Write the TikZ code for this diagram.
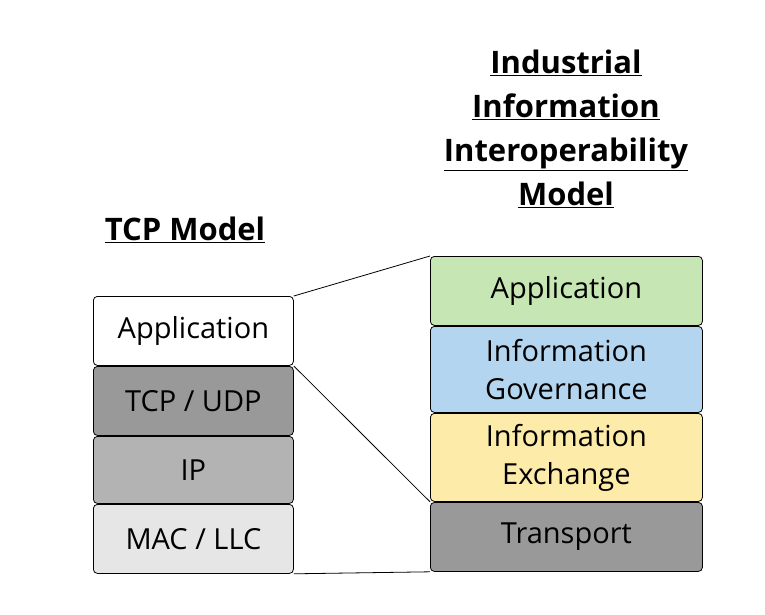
\documentclass[tikz,border=0pt]{standalone}
\usepackage{fontspec}
\setmainfont{Open Sans}
\usetikzlibrary{positioning}
\definecolor{appgreen}{HTML}{C6E6B3}
\definecolor{govblue}{HTML}{B4D5EF}
\definecolor{exyellow}{HTML}{FDEBA9}
\definecolor{darkgrey}{HTML}{999999}
\definecolor{midgrey}{HTML}{B3B3B3}
\definecolor{lightgrey}{HTML}{E6E6E6}
\begin{document}
\begin{tikzpicture}[x=1pt,y=-1pt]
	\tikzstyle{layer}=[draw,thick,rounded corners=4pt,anchor=north west,inner sep=0pt,align=center,font=\fontsize{29}{38}\selectfont]
	\tikzstyle{left}=[layer,minimum width=200pt]
	\tikzstyle{right}=[layer,minimum width=272pt]
	\tikzstyle{title}=[font=\fontsize{31}{44}\selectfont\bfseries,align=center]
	\tikzstyle{link}=[thick]
	\useasboundingbox (0,0) rectangle (765,614);
	\node (lapp) at (93,296) [left,minimum height=69pt,fill=white] {Application};
	\node (ltcp) at (93,366) [left,minimum height=69pt,fill=darkgrey] {TCP / UDP};
	\node (lip) at (93,436) [left,minimum height=67pt,fill=midgrey] {IP};
	\node (lmac) at (93,504) [left,minimum height=69pt,fill=lightgrey] {MAC / LLC};
	\node (rapp) at (430,256) [right,minimum height=69pt,fill=appgreen] {Application};
	\node (rgov) at (430,326) [right,minimum height=86pt,fill=govblue] {Information\\Governance};
	\node (rex) at (430,413) [right,minimum height=88pt,fill=exyellow] {Information\\Exchange};
	\node (rtra) at (430,502) [right,minimum height=69pt,fill=darkgrey] {Transport};
	\node (ltitle) at (185,230) [title] {\underline{TCP Model}};
	\node (rtitle) at (566,129) [title] {\underline{Industrial}\\\underline{Information}\\\underline{Interoperability}\\\underline{Model}};
	\draw [link] (lapp.north east) -- (rapp.north west);
	\draw [link] (ltcp.north east) -- (rex.south west);
	\draw [link] (lmac.south east) -- (rtra.south west);
\end{tikzpicture}
\end{document}
